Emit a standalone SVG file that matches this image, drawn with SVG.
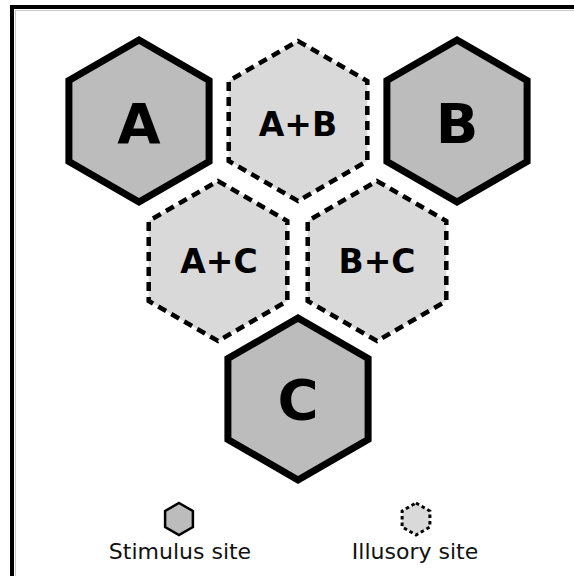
<svg xmlns="http://www.w3.org/2000/svg" width="574" height="576" viewBox="0 0 574 576">
<style>
.stim{fill:#bcbcbc;stroke:#000;stroke-width:7;stroke-linejoin:miter}
.ill{fill:#d9d9d9;stroke:#000;stroke-width:4.5;stroke-dasharray:9 6}
.big{font-family:"DejaVu Sans",sans-serif;font-weight:bold;font-size:56px;text-anchor:middle;fill:#000}
.mid{font-family:"DejaVu Sans",sans-serif;font-weight:bold;font-size:33px;text-anchor:middle;fill:#000}
.leg{font-family:"DejaVu Sans",sans-serif;font-size:22px;text-anchor:middle;fill:#111}
</style>
<rect x="0" y="0" width="574" height="576" fill="#fff"/>
<g id="frame">
<path d="M15.5,576 V10.5 H574" fill="none" stroke="#c8c8c8" stroke-width="1"/>
<path d="M12,576 V7 H574" fill="none" stroke="#000" stroke-width="4"/>
</g>
<g id="connectors"></g>
<g id="node-AB">
<polygon class="ill" points="298,41 367.3,81 367.3,161 298,201 228.7,161 228.7,81"/>
<text class="mid" x="298" y="136">A+B</text>
</g>
<g id="node-AC">
<polygon class="ill" points="218,181 287.3,221 287.3,301 218,341 148.7,301 148.7,221"/>
<text class="mid" x="219" y="273">A+C</text>
</g>
<g id="node-BC">
<polygon class="ill" points="377,181 446.3,221 446.3,301 377,341 307.7,301 307.7,221"/>
<text class="mid" x="377" y="273">B+C</text>
</g>
<g id="node-A">
<polygon class="stim" points="139,40 209.1,80.5 209.1,161.5 139,202 68.9,161.5 68.9,80.5"/>
<text class="big" x="139" y="143">A</text>
</g>
<g id="node-B">
<polygon class="stim" points="457,40 527.1,80.5 527.1,161.5 457,202 386.9,161.5 386.9,80.5"/>
<text class="big" x="457" y="143">B</text>
</g>
<g id="node-C">
<polygon class="stim" points="298,318 368.1,358.5 368.1,439.5 298,480 227.9,439.5 227.9,358.5"/>
<text class="big" x="298" y="419">C</text>
</g>
<g id="legend-stimulus">
<polygon points="179,503 192.9,511 192.9,527 179,535 165.1,527 165.1,511" fill="#bcbcbc" stroke="#000" stroke-width="2.5"/>
<text class="leg" x="180" y="559">Stimulus site</text>
</g>
<g id="legend-illusory">
<polygon points="416,503 429.9,511 429.9,527 416,535 402.1,527 402.1,511" fill="#d9d9d9" stroke="#000" stroke-width="3" stroke-dasharray="3.5 3"/>
<text class="leg" x="415" y="559">Illusory site</text>
</g>
</svg>
